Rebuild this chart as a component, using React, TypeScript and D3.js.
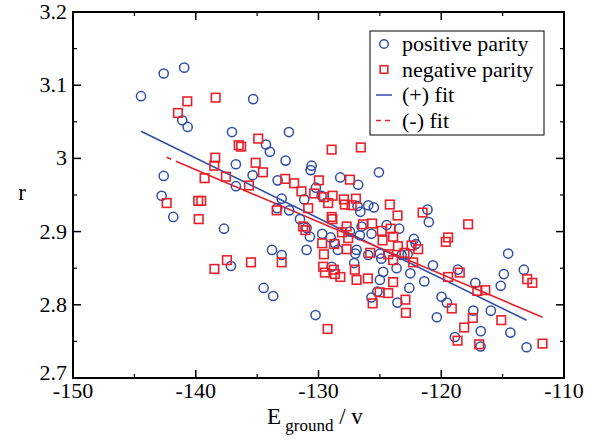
import React from "react";
import * as d3 from "d3";

// positive parity (blue circles)
const posX = [-144.46,-142.61,-140.94,-141.10,-140.66,-137.05,-136.73,-142.61,-142.78,-136.73,-141.83,-137.70,-137.13,-135.32,-134.28,-133.96,-132.41,-135.37,-133.33,-132.68,-130.56,-130.64,-133.79,-133.00,-134.47,-133.69,-130.24,-133.00,-133.36,-132.39,-131.16,-130.21,-129.75,-131.51,-130.97,-129.70,-130.70,-129.01,-130.97,-128.42,-128.66,-128.23,-126.77,-126.82,-126.59,-126.49,-127.44,-126.63,-126.90,-127.00,-127.09,-128.93,-125.08,-125.95,-125.49,-121.12,-121.01,-124.45,-123.43,-125.68,-122.23,-122.07,-125.00,-125.95,-123.23,-122.74,-120.68,-124.88,-124.73,-123.64,-122.52,-121.38,-125.00,-122.60,-125.69,-125.20,-123.57,-119.98,-119.54,-120.36,-118.65,-117.22,-117.39,-115.96,-115.15,-114.90,-114.55,-113.27,-118.89,-116.78,-116.80,-114.37,-113.05];
const posY = [3.085,3.116,3.124,3.052,3.043,3.036,2.992,2.976,2.949,2.962,2.920,2.904,2.853,3.081,3.019,3.009,3.036,2.977,2.970,2.997,2.990,2.984,2.875,2.868,2.823,2.812,2.786,2.945,2.932,2.929,2.944,2.960,2.949,2.917,2.905,2.897,2.893,2.892,2.875,2.875,2.884,2.974,2.964,2.935,2.927,2.907,2.900,2.895,2.875,2.870,2.857,2.852,2.981,2.936,2.933,2.930,2.913,2.909,2.904,2.897,2.890,2.883,2.870,2.868,2.868,2.869,2.854,2.863,2.845,2.850,2.843,2.832,2.834,2.823,2.810,2.818,2.803,2.811,2.803,2.783,2.848,2.830,2.792,2.792,2.826,2.842,2.870,2.848,2.756,2.764,2.743,2.762,2.742];

// negative parity (red squares)
const negX = [-140.69,-138.38,-141.45,-138.41,-138.49,-139.28,-137.54,-136.50,-136.30,-142.37,-139.80,-139.55,-139.76,-137.46,-138.48,-134.91,-135.12,-134.53,-135.67,-135.50,-133.00,-133.41,-132.71,-131.98,-131.39,-129.97,-130.35,-129.56,-128.85,-129.21,-127.93,-127.85,-127.30,-126.95,-127.44,-130.84,-128.93,-128.87,-131.25,-131.07,-127.71,-128.09,-126.38,-125.63,-129.70,-129.56,-128.72,-127.71,-127.58,-129.62,-129.48,-128.75,-128.66,-128.22,-127.04,-126.90,-125.98,-129.26,-126.55,-128.93,-124.19,-123.56,-121.52,-117.81,-124.84,-124.12,-123.92,-124.78,-119.44,-119.63,-122.42,-121.88,-123.53,-125.79,-124.32,-123.92,-123.00,-122.29,-123.92,-125.02,-124.32,-125.59,-122.92,-122.88,-119.44,-118.49,-119.14,-117.43,-118.13,-118.67,-116.91,-117.06,-116.41,-115.11,-113.00,-112.58,-111.75];
const negY = [3.078,3.083,3.062,3.001,2.990,2.973,2.975,3.018,3.016,2.939,2.942,2.942,2.917,2.861,2.849,3.027,2.994,2.981,2.963,2.858,2.858,2.929,2.972,2.966,2.955,2.970,2.952,2.947,2.949,2.939,2.944,2.937,2.936,2.945,2.971,2.932,2.920,2.917,2.907,2.902,2.907,2.899,2.910,2.911,2.884,2.869,2.883,2.876,2.891,2.852,2.844,2.848,2.842,2.838,2.848,2.834,2.836,2.767,3.015,3.012,2.937,2.922,2.926,2.910,2.901,2.904,2.893,2.888,2.892,2.886,2.881,2.876,2.880,2.871,2.869,2.861,2.871,2.858,2.831,2.817,2.816,2.802,2.807,2.789,2.838,2.844,2.795,2.782,2.769,2.751,2.746,2.819,2.820,2.779,2.835,2.830,2.747];

// linear fits (end points)
const posFitX = [-144.46, -113.05];
const posFitY = [3.037, 2.779];
const negFitX = [-142.37, -111.75];
const negFitY = [3.0015, 2.783];

const xTicks = [-150, -140, -130, -120, -110];
const xMinor = [-145, -135, -125, -115];
const yTicks = [2.7, 2.8, 2.9, 3.0, 3.1, 3.2];
const yTickLabels = ["2.7", "2.8", "2.9", "3", "3.1", "3.2"];
const yMinor = [2.75, 2.85, 2.95, 3.05, 3.15];
const legendLabels = ["positive parity", "negative parity", "(+) fit", "(-) fit"];

const BLUE = "#2f4ea6";
const RED = "#e8202a";
const FONT = "'Liberation Serif', 'Times New Roman', serif";

export default function App() {
  const L = 73, R = 564, T = 12, B = 378;
  const x = d3.scaleLinear().domain([-150, -110]).range([L, R]);
  const y = d3.scaleLinear().domain([2.7, 3.2]).range([B, T]);
  const line = d3.line<[number, number]>().x((d) => x(d[0])).y((d) => y(d[1]));
  const posFit = line(posFitX.map((v, i) => [v, posFitY[i]]) as [number, number][]) || "";
  const negFit = line(negFitX.map((v, i) => [v, negFitY[i]]) as [number, number][]) || "";
  const maj = 8, min = 4;
  const lx = 384, ly0 = 44, ldy = 25.5;
  return (
    <svg width={606} height={446} style={{ position: "absolute", left: 0, top: 0, display: "block", background: "#fff" }}>
      <rect x={0} y={0} width={606} height={446} fill="#fff" />
      {/* fit lines */}
      <path d={posFit} stroke={BLUE} strokeWidth={1.6} fill="none" />
      <path d={negFit} stroke={RED} strokeWidth={1.6} fill="none" strokeDasharray="5 5 1000" />
      {/* points */}
      {posX.map((v, i) => (
        <circle key={"p" + i} cx={x(v)} cy={y(posY[i])} r={4.6} fill="none" stroke={BLUE} strokeWidth={1.5} />
      ))}
      {negX.map((v, i) => (
        <rect key={"n" + i} x={x(v) - 4.3} y={y(negY[i]) - 4.3} width={8.6} height={8.6} fill="none" stroke={RED} strokeWidth={1.6} />
      ))}
      {/* frame */}
      <rect x={L} y={T} width={R - L} height={B - T} fill="none" stroke="#000" strokeWidth={2} />
      {xTicks.map((t) => (
        <g key={"xt" + t}>
          <line x1={x(t)} x2={x(t)} y1={B} y2={B - maj} stroke="#000" strokeWidth={1.5} />
          <line x1={x(t)} x2={x(t)} y1={T} y2={T + maj} stroke="#000" strokeWidth={1.5} />
          <text x={x(t)} y={398} textAnchor="middle" fontFamily={FONT} fontSize={22}>{t}</text>
        </g>
      ))}
      {xMinor.map((t) => (
        <g key={"xm" + t}>
          <line x1={x(t)} x2={x(t)} y1={B} y2={B - min} stroke="#000" strokeWidth={1.2} />
          <line x1={x(t)} x2={x(t)} y1={T} y2={T + min} stroke="#000" strokeWidth={1.2} />
        </g>
      ))}
      {yTicks.map((t, i) => (
        <g key={"yt" + t}>
          <line x1={L} x2={L + maj} y1={y(t)} y2={y(t)} stroke="#000" strokeWidth={1.5} />
          <line x1={R} x2={R - maj} y1={y(t)} y2={y(t)} stroke="#000" strokeWidth={1.5} />
          <text x={67} y={y(t) + (i === 0 ? 2 : 7)} textAnchor="end" fontFamily={FONT} fontSize={22}>{yTickLabels[i]}</text>
        </g>
      ))}
      {yMinor.map((t) => (
        <g key={"ym" + t}>
          <line x1={L} x2={L + min} y1={y(t)} y2={y(t)} stroke="#000" strokeWidth={1.2} />
          <line x1={R} x2={R - min} y1={y(t)} y2={y(t)} stroke="#000" strokeWidth={1.2} />
        </g>
      ))}
      {/* axis titles */}
      <text x={22} y={200} textAnchor="middle" fontFamily={FONT} fontSize={23}>r</text>
      <text x={267} y={424} fontFamily={FONT} fontSize={23}>
        E<tspan fontSize={17} dy={7}> ground</tspan><tspan dy={-7}> / v</tspan>
      </text>
      {/* legend */}
      <rect x={370} y={31} width={174} height={104} fill="#fff" stroke="#000" strokeWidth={1} />
      <circle cx={lx} cy={ly0} r={4.3} fill="none" stroke={BLUE} strokeWidth={1.5} />
      <rect x={lx - 3.8} y={ly0 + ldy - 3.8} width={7.6} height={7.6} fill="none" stroke={RED} strokeWidth={1.6} />
      <line x1={376} x2={392} y1={ly0 + 2 * ldy} y2={ly0 + 2 * ldy} stroke={BLUE} strokeWidth={1.5} />
      <line x1={376} x2={392} y1={ly0 + 3 * ldy} y2={ly0 + 3 * ldy} stroke={RED} strokeWidth={1.5} strokeDasharray="5 4" />
      {legendLabels.map((s, i) => (
        <text key={s} x={402} y={ly0 + i * ldy + 7} fontFamily={FONT} fontSize={22}>{s}</text>
      ))}
    </svg>
  );
}
